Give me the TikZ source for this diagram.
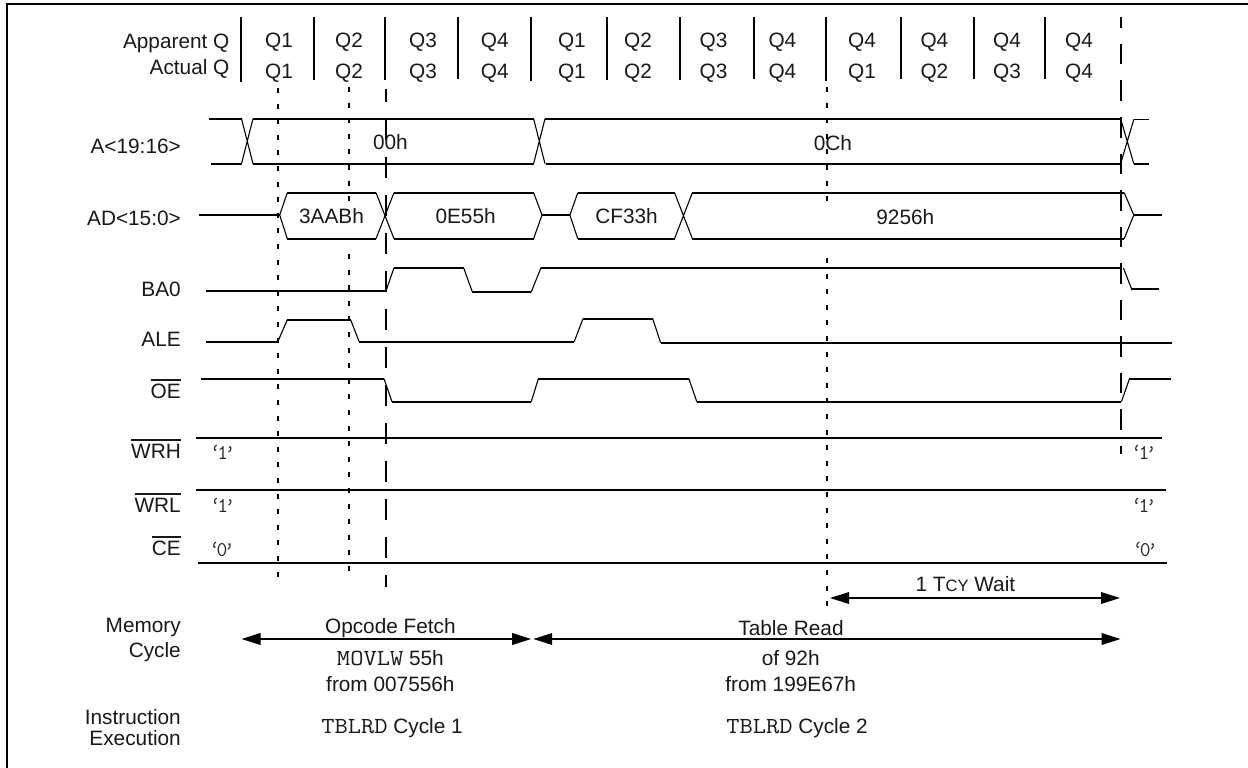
\documentclass[tikz,border=0pt]{standalone}
\usepackage{fontspec}
\usepackage{graphicx}
\setmainfont{Liberation Sans}
\usetikzlibrary{arrows.meta}
\newcommand{\ovl}[1]{\leavevmode\vbox{\hrule height 1.8pt \kern 2.5pt \hbox{#1}}}
\newcommand{\cmono}[1]{\scalebox{1.12}[1]{\ttfamily\fontsize{23}{23}\selectfont #1}}
\tikzset{
  wave/.style={line width=1.9pt,line join=miter},
  thin wave/.style={line width=1.1pt},
  tick/.style={line width=1.9pt},
  short dash/.style={line width=1.9pt,dash pattern=on 5pt off 10.6pt},
  long dash/.style={line width=1.9pt,dash pattern=on 21pt off 17pt},
  long dash b/.style={line width=1.9pt,dash pattern=on 20.5pt off 16pt},
  span/.style={line width=1.9pt,{Triangle[length=19pt,width=11.5pt]}-{Triangle[length=19pt,width=11.5pt]}},
  txt/.style={inner sep=0pt,yshift=-1.3pt,font=\fontsize{20.8}{22}\selectfont,text=black!90},
  lab/.style={txt,anchor=east},
  q/.style={inner sep=0pt,font=\ttfamily\fontsize{21}{21}\selectfont,text=black!85}
}
\newcommand{\qv}[1]{‘\kern-3.5pt #1\kern-3.5pt ’}
\begin{document}
\begin{tikzpicture}[x=1pt,y=-1pt]
\useasboundingbox (0,0) rectangle (1248,768);
\fill[white] (0,0) rectangle (1248,768);
% frame
\draw[line width=2.2pt] (6.8,768)--(6.8,4)--(1248,4);
% header ticks
\foreach \x/\b in {240.8/82,314/80,384.8/80,457.7/79,530.9/81,607.3/80,679.7/80,753.7/79,825.8/81,901/79,973.8/79,1044.6/79}
  \draw[tick] (\x,17)--(\x,\b);
% dashed guides
\draw[short dash] (277.8,88)--(277.8,581);
\draw[short dash] (349,87)--(349,205);
\draw[short dash] (349,254)--(349,581);
\draw[short dash] (827,87)--(827,205);
\draw[short dash] (827,258)--(827,614);
\draw[long dash,dash phase=8pt] (385.6,89)--(385.6,587);
\draw[long dash b,dash phase=9.5pt] (1120.6,17)--(1120.6,454);
% header text
\node[lab] (appq) at (229.6,42) {Apparent Q};
\node[lab] (actq) at (229.6,68) {Actual Q};
\foreach \x/\a/\b [count=\i] in {279/Q1/Q1,349/Q2/Q2,423/Q3/Q3,494.7/Q4/Q4,571.9/Q1/Q1,638/Q2/Q2,713.5/Q3/Q3,782.4/Q4/Q4,862/Q4/Q1,934.4/Q4/Q2,1007/Q4/Q3,1079/Q4/Q4}{
  \node[txt] (ap\i) at (\x,41) {\a};
  \node[txt] (ac\i) at (\x,72) {\b};
}
% A<19:16>
\draw[wave] (209,118.7)--(241.5,118.7);
\draw[wave] (211,163.7)--(241.5,163.7);
\draw[thin wave] (241.5,118.7)--(253,163.7) (241.5,163.7)--(253,118.7);
\draw[wave] (253,118.7)--(533.6,118.7) (253,163.7)--(533.6,163.7);
\draw[thin wave] (533.6,118.7)--(545,163.7) (533.6,163.7)--(545,118.7);
\draw[wave] (545,118.7)--(1120.6,118.7) (546,163.7)--(1120.6,163.7);
\draw[thin wave] (1120.6,118.7)--(1133.8,163.7) (1120.6,163.7)--(1133.8,119.5);
\draw[wave] (1133.8,119.5)--(1149,119.5) (1133.8,163.7)--(1149,163.7);
% AD<15:0>
\draw[wave] (199,215)--(279.7,215);
\draw[thin wave] (279.7,215)--(287.3,192.7) (279.7,215)--(287.3,238.7);
\draw[wave] (287.3,192.7)--(376,192.7) (287.3,238.7)--(376,238.7);
\draw[thin wave] (376,192.7)--(394,238.7) (376,238.7)--(394,192.7);
\draw[wave] (394,192.7)--(533.6,192.7) (394,238.7)--(533.6,238.7);
\draw[thin wave] (533.6,192.7)--(542,215)--(533.6,238.7);
\draw[wave] (542,215)--(569.9,215);
\draw[thin wave] (577.8,192.7)--(569.9,215)--(577.8,238.7);
\draw[wave] (577.8,192.7)--(674.5,192.7) (577.8,238.7)--(674.5,238.7);
\draw[thin wave] (674.5,192.7)--(692.4,238.7) (674.5,238.7)--(692.4,192.7);
\draw[wave] (692.4,192.7)--(1124.2,192.7) (692.4,238.7)--(1124.2,238.7);
\draw[thin wave] (1124.2,192.7)--(1133.8,215)--(1124.2,238.7);
\draw[wave] (1133.8,215)--(1162,215);
% BA0
\draw[wave] (206,291)--(386,291);
\draw[thin wave] (386,291)--(394,267.7);
\draw[wave] (394,267.7)--(463.6,267.7);
\draw[thin wave] (463.6,267.7)--(472.4,292);
\draw[wave] (472.4,292)--(531.2,292);
\draw[thin wave] (531.2,292)--(541,267.7);
\draw[wave] (541,267.7)--(1120.6,267.7);
\draw[thin wave] (1123.4,268)--(1132,290);
\draw[wave] (1131,288.7)--(1158.8,288.7);
% ALE
\draw[wave] (206,341.7)--(277.8,341.7);
\draw[thin wave] (277.8,341.7)--(287.3,319.7);
\draw[wave] (287.3,319.7)--(350.6,319.7);
\draw[thin wave] (350.6,319.7)--(359.3,342);
\draw[wave] (359.3,341.7)--(574.2,341.7);
\draw[thin wave] (574.2,341.7)--(583,318.7);
\draw[wave] (583,318.7)--(652.7,318.7);
\draw[thin wave] (652.7,318.7)--(660.6,342.7);
\draw[wave] (660.6,342.7)--(1172,342.7);
% OE
\draw[wave] (201,378.7)--(384,378.7);
\draw[thin wave] (384,378.7)--(392,401.7);
\draw[wave] (392,401.7)--(531.2,401.7);
\draw[thin wave] (531.2,401.7)--(538.4,378.7);
\draw[wave] (538.4,378.7)--(688.9,378.7);
\draw[thin wave] (688.9,378.7)--(696.8,401.7);
\draw[wave] (696.8,401.7)--(1121.4,401.7);
\draw[thin wave] (1121.4,401.7)--(1129.4,379);
\draw[wave] (1129.4,379)--(1171.4,379);
% static lines
\draw[wave] (196,437.7)--(1162,437.7);
\draw[wave] (196,489.7)--(1166,489.7);
\draw[wave] (198,562.7)--(1166.8,562.7);
% signal labels
\node[lab] (la) at (181,145.5) {A<19:16>};
\node[lab] (lad) at (181,217) {AD<15:0>};
\node[lab] (lba) at (181,288) {BA0};
\node[lab] (lale) at (181,338.5) {ALE};
\node[lab,anchor=base east] (loe) at (181,396.7) {\ovl{OE}};
\node[lab,anchor=base east] (lwrh) at (181,456.7) {\ovl{WRH}};
\node[lab,anchor=base east] (lwrl) at (181,510.7) {\ovl{WRL}};
\node[lab,anchor=base east] (lce) at (181,553.7) {\ovl{CE}};
% bus values
\node[txt] (v00) at (390.4,141) {00h};
\node[txt] (v0c) at (832.9,141.7) {0Ch};
\node[txt] (v3a) at (331.5,215) {3AABh};
\node[txt] (v0e) at (465.6,215) {0E55h};
\node[txt] (vcf) at (626.5,215) {CF33h};
\node[txt] (v92) at (905.3,216) {9256h};
% levels
\node[q] (q1) at (222.8,452) {\qv{1}};
\node[q] (q2) at (222.8,505.7) {\qv{1}};
\node[q] (q3) at (222,549) {\qv{0}};
\node[q] (q4) at (1144,452) {\qv{1}};
\node[q] (q5) at (1144,505.7) {\qv{1}};
\node[q] (q6) at (1145.3,549) {\qv{0}};
% spans
\coordinate (w1) at (830,598); \coordinate (w2) at (1120,598);
\coordinate (o1) at (241.5,639); \coordinate (o2) at (531.2,639);
\coordinate (t1) at (533.2,639); \coordinate (t2) at (1120.6,639);
\draw[span] (w1)--(w2);
\draw[span] (o1)--(o2);
\draw[span] (t1)--(t2);
\node[txt] (wait) at (965.4,583) {1 T{\fontsize{16.5}{17}\selectfont CY} Wait};
\node[lab] (mem) at (181,625.7) {Memory};
\node[lab] (cyc) at (181,650.7) {Cycle};
\node[lab] (ins) at (181,716) {Instruction};
\node[lab] (exe) at (181,737) {Execution};
\node[txt] (op) at (390.4,626.7) {Opcode Fetch};
\node[txt] (mov) at (390.4,656.7) {\cmono{MOVLW} 55h};
\node[txt] (fr1) at (390.4,683) {from 007556h};
\node[txt] (c1) at (392,727) {\cmono{TBLRD} Cycle 1};
\node[txt] (tr) at (791,626.7) {Table Read};
\node[txt] (of) at (790.7,656.7) {of 92h};
\node[txt] (fr2) at (790.7,683) {from 199E67h};
\node[txt] (c2) at (797,727) {\cmono{TBLRD} Cycle 2};
\end{tikzpicture}
\end{document}
